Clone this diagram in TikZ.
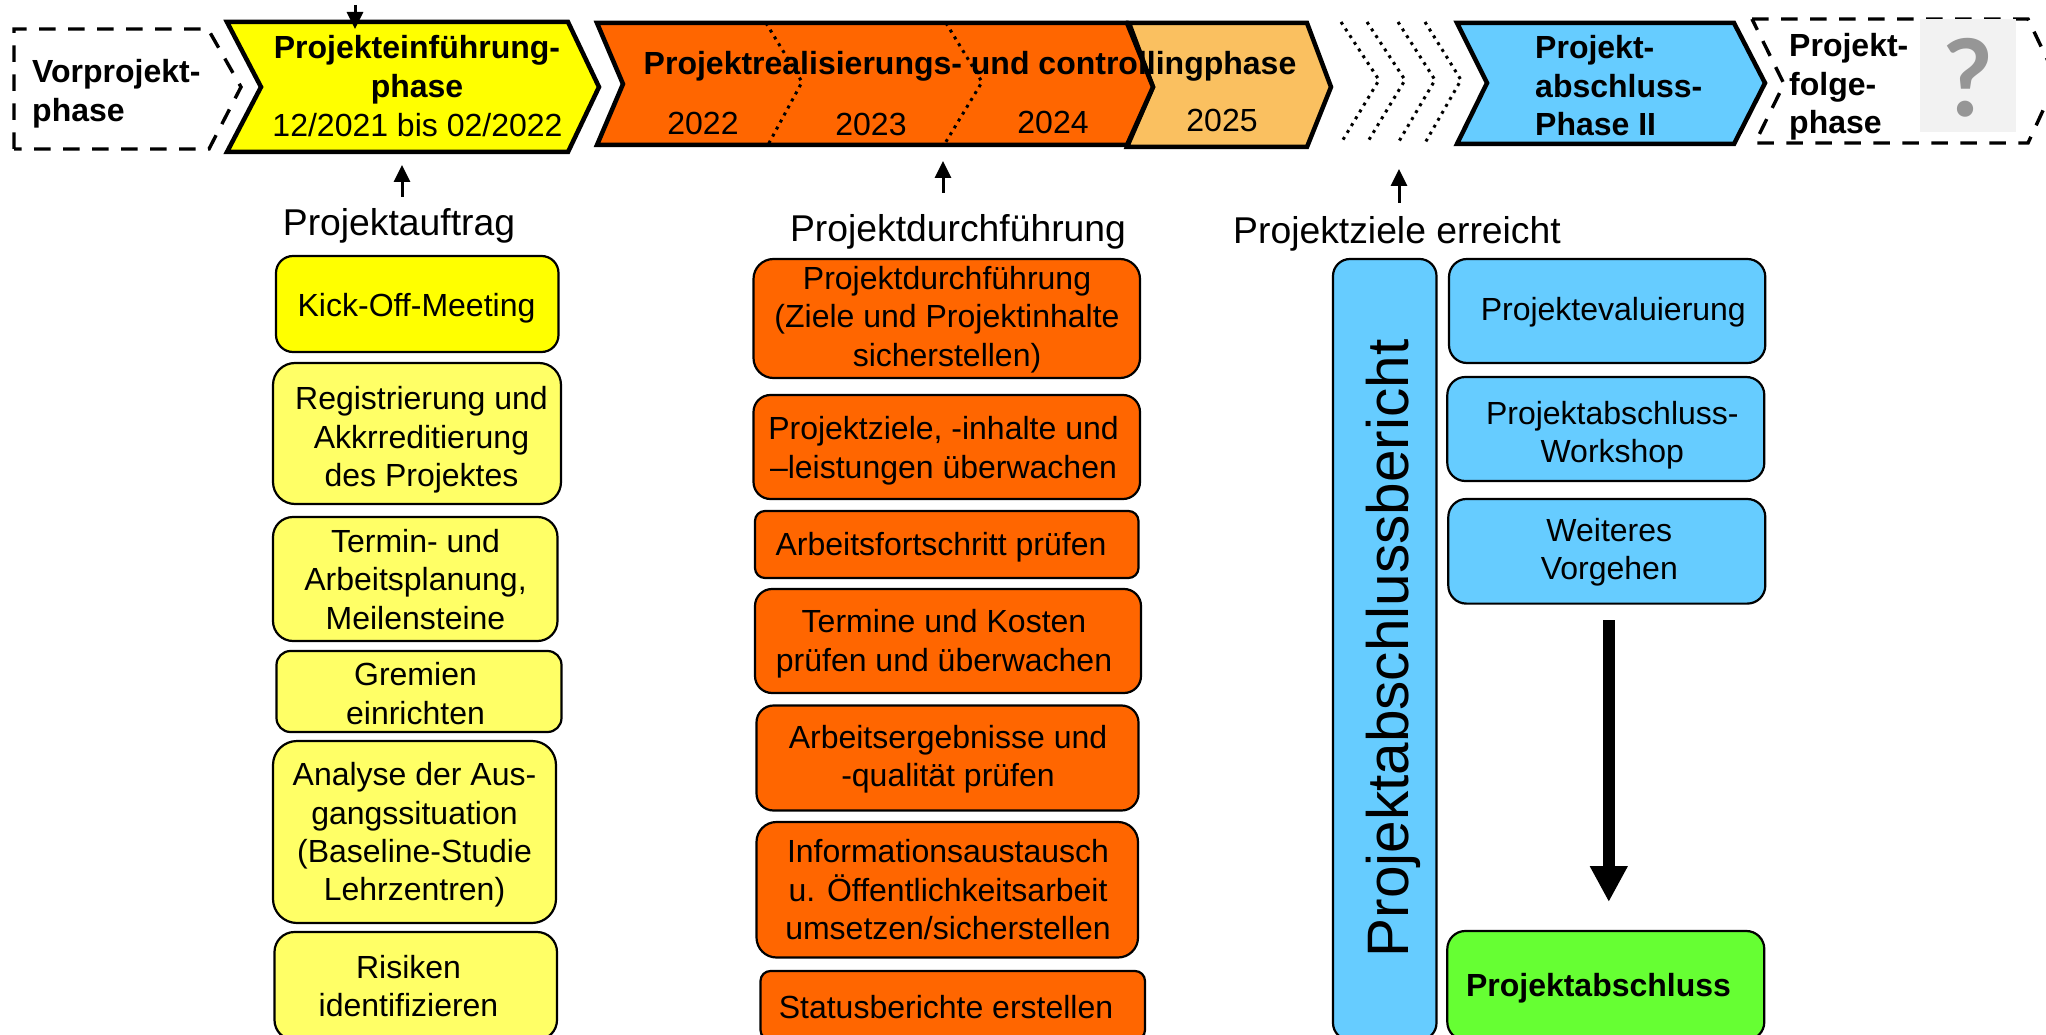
\documentclass[tikz,border=0pt]{standalone}
\usepackage{fontspec}
\setmainfont{Liberation Sans}
\newfontfamily\qfont{Lato}
\usetikzlibrary{arrows.meta}
\definecolor{cyel}{HTML}{FFFF00}
\definecolor{cyell}{HTML}{FFFF66}
\definecolor{cora}{HTML}{FF6600}
\definecolor{corl}{HTML}{FAC060}
\definecolor{cblu}{HTML}{66CCFF}
\definecolor{cgrn}{HTML}{66FF33}
\definecolor{cgrl}{HTML}{F2F2F2}
\definecolor{cgrd}{HTML}{969696}
\tikzset{
  x=1pt,y=-1pt,
  chev/.style={draw=black,line width=4.5pt,miter limit=10},
  dashchev/.style={draw=black,line width=3.4pt,dash pattern=on 16.5pt off 12.5pt},
  dotln/.style={draw=black,line width=3pt,dash pattern=on 3pt off 5pt},
  txt/.style={font=\fontsize{32}{38.4}\selectfont,align=center,inner sep=0pt,yshift=-4.5pt,
     execute at begin node=\strut,execute at end node=\strut},
  txtb/.style={txt,font=\fontsize{32}{38.4}\selectfont\bfseries},
  txtl/.style={txt,align=left,anchor=west},
  txtbl/.style={txtb,align=left,anchor=west},
  head/.style={txt,font=\fontsize{37.3}{44}\selectfont},
  boxn/.style={draw=black,line width=2.2pt,rounded corners=17pt,inner sep=0pt,outer sep=0pt},
  upar/.style={draw=black,line width=3pt,-{Triangle[width=16pt,length=17pt]}},
  bigar/.style={draw=black,line width=12.4pt,-{Triangle[width=35.5pt,length=36pt]}},
}
% style, name, x1, y1, x2, y2, text centre x, text centre y, text
\newcommand{\bxn}[9]{%
  \node[boxn,#1,minimum width={(#5-#3)*1pt},minimum height={(#6-#4)*1pt}] (#2) at ({(#3+#5)/2},{(#4+#6)/2}) {};
  \node[txt] (#2t) at (#7,#8) {#9};
}
\begin{document}
\begin{tikzpicture}
\clip (0,0) rectangle (2046,1035);
\path[fill=white] (0,0) rectangle (2046,1035);

% phase chevrons
\path[dashchev] (14,149) -- (14,29) -- (208,29) -- (241,87) -- (209,149) -- cycle;
\path[chev,fill=cyel] (227,22) -- (568,22) -- (599,87) -- (568,152) -- (227,152) -- (261,87) -- cycle;
\path[chev,fill=corl] (1129,23) -- (1307,23) -- (1331,87) -- (1307,147) -- (1127,147) -- (1153,87) -- cycle;
\path[chev,fill=cora] (597,23) -- (1127,23) -- (1153,87) -- (1127,145) -- (597,145) -- (623,84) -- cycle;
\path[dotln] (766,23) -- (802,82) -- (768,145);
\path[dotln] (946,23) -- (982,82) -- (944,145);
\path[dotln] (1341,22) -- (1379,80) -- (1341,143);
\path[dotln] (1367,22) -- (1405,80) -- (1367,143);
\path[dotln] (1398,22) -- (1435,80) -- (1398,143);
\path[dotln] (1425,22) -- (1461,80) -- (1425,143);
\path[chev,fill=cblu] (1457,23) -- (1734,23) -- (1765,83) -- (1734,144) -- (1457,144) -- (1487,83) -- cycle;
\path[dashchev] (1752,19) -- (2028,19) -- (2057,80) -- (2028,143) -- (1755,143) -- (1784,84) -- cycle;
\node[fill=cgrl,inner sep=0pt,minimum width=96pt,minimum height=113pt] (qbox) at (1968,75.5) {};
\node[font=\fontsize{107}{107}\selectfont\qfont\bfseries,text=cgrd,inner sep=0pt] (qmark) at (1968,78) {?};

% phase texts
\node[txtbl] (vor) at (32,91.5) {Vorprojekt-\\phase};
\node[txtb] (ein) at (417,67.5) {Projekteinführung-\\phase};
\node[txt] (eind) at (417.5,124.5) {12/2021 bis 02/2022};
\node[txtb] (real) at (970,62) {Projektrealisierungs- und controllingphase};
\node[txt] (y22) at (703,122) {2022};
\node[txt] (y23) at (871,123.5) {2023};
\node[txt] (y24) at (1053,121.5) {2024};
\node[txt] (y25) at (1222,119.5) {2025};
\node[txtbl] (abs2) at (1535,87) {Projekt-\\abschluss-\\Phase II};
\node[txtbl] (folge) at (1789,85) {Projekt-\\folge-\\phase};

% column heads
\node[head] (hauf) at (399,222) {Projektauftrag};
\node[head] (hdur) at (958,228) {Projektdurchführung};
\node[head] (hzie) at (1397,230) {Projektziele erreicht};

% small arrows
\coordinate (a0s) at (355,5);   \coordinate (a0e) at (355,29);
\coordinate (a1s) at (402,197); \coordinate (a1e) at (402,165);
\coordinate (a2s) at (943,193); \coordinate (a2e) at (943,161);
\coordinate (a3s) at (1399,203);\coordinate (a3e) at (1399,169);
\draw[upar] (a0s) -- (a0e);
\draw[upar] (a1s) -- (a1e);
\draw[upar] (a2s) -- (a2e);
\draw[upar] (a3s) -- (a3e);

% yellow column
\bxn{fill=cyel}{y1}{276}{256}{558.5}{352}{416.5}{304}{Kick-Off-Meeting}
\bxn{fill=cyell,rounded corners=22pt}{y2}{273}{363}{561}{504}{421.5}{438}{Registrierung und\\Akkrreditierung\\des Projektes}
\bxn{fill=cyell,rounded corners=20pt}{y3}{273}{517}{557.5}{641}{415.5}{580.5}{Termin- und\\Arbeitsplanung,\\Meilensteine}
\bxn{fill=cyell,rounded corners=14pt}{y4}{276.5}{651}{561.5}{732}{415.5}{694.5}{Gremien\\einrichten}
\bxn{fill=cyell,rounded corners=24pt}{y5}{273}{741}{556}{923}{414.5}{833}{Analyse der Aus-\\gangssituation\\(Baseline-Studie\\Lehrzentren)}
\bxn{fill=cyell,rounded corners=20pt}{y6}{274.5}{932}{557}{1040}{408.5}{987}{Risiken\\identifizieren}

% orange column
\bxn{fill=cora,rounded corners=20pt}{o1}{753.5}{259}{1140}{378}{947}{317.5}{Projektdurchführung\\(Ziele und Projektinhalte\\sicherstellen)}
\bxn{fill=cora,rounded corners=17pt}{o2}{753.5}{395}{1140}{499}{943.5}{448.5}{Projektziele, -inhalte und\\–leistungen überwachen}
\bxn{fill=cora,rounded corners=10pt}{o3}{755}{511}{1138.5}{578}{941}{543}{Arbeitsfortschritt prüfen}
\bxn{fill=cora,rounded corners=17pt}{o4}{755}{589}{1141}{693}{944}{641.5}{Termine und Kosten\\prüfen und überwachen}
\bxn{fill=cora,rounded corners=17pt}{o5}{756.5}{705.5}{1138.5}{810.5}{948}{757}{Arbeitsergebnisse und\\-qualität prüfen}
\bxn{fill=cora,rounded corners=20pt}{o6}{756.5}{822}{1138}{957.5}{948}{891}{Informationsaustausch\\u. Öffentlichkeitsarbeit\\umsetzen/sicherstellen}
\bxn{fill=cora,rounded corners=10pt}{o7}{760.5}{971}{1145}{1040}{946}{1006}{Statusberichte erstellen}

% closing column
\node[boxn,fill=cblu,minimum width=103.5pt,minimum height=781pt] (ber) at (1384.75,649.5) {};
\node[font=\fontsize{58.5}{58}\selectfont,rotate=90,anchor=base,inner sep=0pt] (bert) at (1408,648.5) {Projektabschlussbericht};
\bxn{fill=cblu,rounded corners=18pt}{b1}{1449}{259}{1765.3}{363}{1613.3}{308.5}{Projektevaluierung}
\bxn{fill=cblu,rounded corners=18pt}{b2}{1447.3}{377}{1764.3}{481}{1612.3}{433}{Projektabschluss-\\Workshop}
\bxn{fill=cblu,rounded corners=18pt}{b3}{1448.3}{499}{1765.3}{603.6}{1609.3}{550}{Weiteres\\Vorgehen}
\node[boxn,fill=cgrn,rounded corners=18pt,minimum width=317pt,minimum height=109pt] (fin) at (1605.8,985.5) {};
\node[txtb] (fint) at (1598.5,984) {Projektabschluss};
\draw[bigar,shorten <=16.4pt,shorten >=29pt] ([xshift=2pt]b3.south) -- ([xshift=3pt]fin.north);
\end{tikzpicture}
\end{document}
